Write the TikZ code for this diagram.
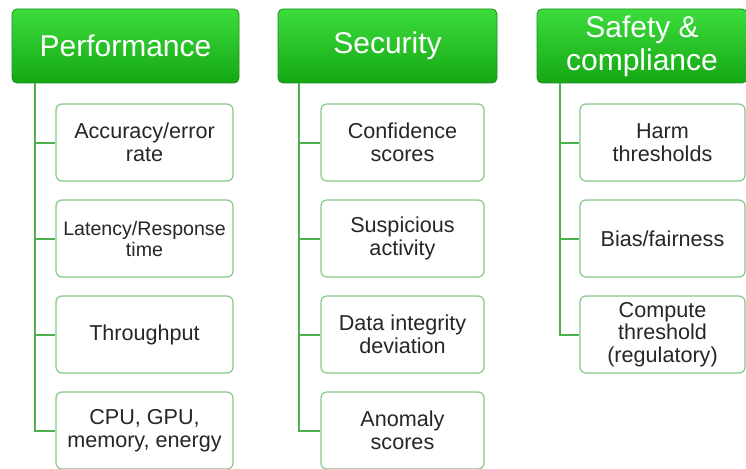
\documentclass[tikz,border=0pt]{standalone}
\usepackage{fontspec}
\setmainfont{Liberation Sans}
\begin{document}
\begin{tikzpicture}[x=1pt,y=1pt,
  header/.style={rounded corners=5pt, top color=hdtop, bottom color=hdbot, draw=hdedge, line width=0.8pt,
    text=white, font=\fontsize{30}{33}\selectfont, align=center, minimum height=74pt, inner sep=0pt},
  item/.style={rounded corners=6pt, fill=white, draw=itemedge, line width=1.2pt,
    text=txt, font=\fontsize{21.6}{22.5}\selectfont, align=center, minimum height=77pt, inner sep=0pt},
  trunk/.style={draw=lineg, line width=2pt}
]
\definecolor{hdtop}{HTML}{3CDC3C}
\definecolor{hdbot}{HTML}{14A814}
\definecolor{hdedge}{HTML}{1E8C1E}
\definecolor{itemedge}{HTML}{86C886}
\definecolor{lineg}{HTML}{4CAF50}
\definecolor{txt}{HTML}{262626}
\useasboundingbox (0,0) rectangle (746,-468);

% headers
\node[header, minimum width=227pt] (ph) at (125.5,-46) {Performance};
\node[header, minimum width=219pt] (sh) at (387.5,-46) {Security};
\node[header, minimum width=210pt] (ch) at (642,-46) {Safety \&\\compliance};

% trunk tops
\coordinate (pt) at (35,-83);
\coordinate (st) at (299,-83);
\coordinate (ct) at (560,-83);

% performance items
\node[item, minimum width=177pt] (p1) at (144.5,-142.5) {Accuracy/error\\rate};
\node[item, minimum width=177pt, font=\fontsize{19.6}{21}\selectfont] (p2) at (144.5,-238.5) {Latency/Response\\time};
\node[item, minimum width=177pt] (p3) at (144.5,-334.5) {Throughput};
\node[item, minimum width=177pt] (p4) at (144.5,-430.5) {CPU, GPU,\\memory, energy};

% security items
\node[item, minimum width=163pt] (s1) at (402.5,-142.5) {Confidence\\scores};
\node[item, minimum width=163pt] (s2) at (402.5,-238.5) {Suspicious\\activity};
\node[item, minimum width=163pt] (s3) at (402.5,-334.5) {Data integrity\\deviation};
\node[item, minimum width=163pt] (s4) at (402.5,-430.5) {Anomaly\\scores};

% safety items
\node[item, minimum width=165pt] (c1) at (662.5,-142.5) {Harm\\thresholds};
\node[item, minimum width=165pt] (c2) at (662.5,-238.5) {Bias/fairness};
\node[item, minimum width=165pt] (c3) at (662.5,-334.5) {Compute\\threshold\\(regulatory)};

% connectors
\foreach \n in {p1,p2,p3,p4} \draw[trunk] (pt) |- (\n.west);
\foreach \n in {s1,s2,s3,s4} \draw[trunk] (st) |- (\n.west);
\foreach \n in {c1,c2,c3} \draw[trunk] (ct) |- (\n.west);
\end{tikzpicture}
\end{document}
